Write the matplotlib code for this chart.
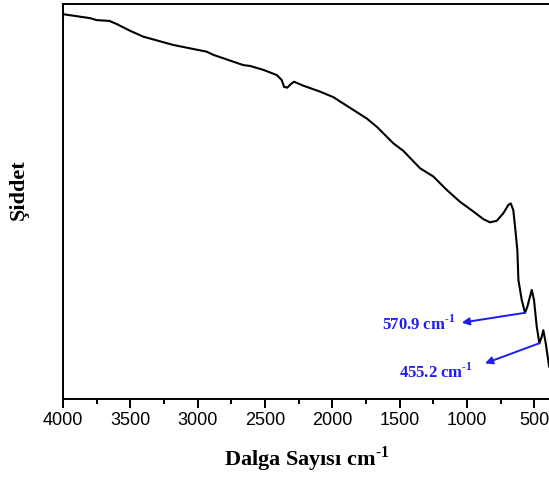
import matplotlib
matplotlib.use("Agg")
import matplotlib.pyplot as plt
from matplotlib.ticker import MultipleLocator

# FTIR spectrum (wavenumber, relative intensity)
wavenumber = [4000, 3799, 3750, 3656, 3601, 3502, 3403, 3180, 2932, 2883,
              2660, 2611, 2512, 2412, 2375, 2358, 2334, 2308, 2284, 2215,
              2091, 1992, 1868, 1744, 1669, 1546, 1472, 1348, 1249, 1149,
              1051, 950, 877, 828, 778, 729, 692, 674, 655, 642,
              625, 617, 592, 568, 551, 518, 501, 481, 461, 444,
              432, 414, 389]
intensity = [97.5, 96.5, 96.0, 95.8, 95.0, 93.3, 91.8, 89.7, 88.0, 87.2,
             84.6, 84.4, 83.4, 82.1, 80.8, 79.1, 78.9, 79.8, 80.4, 79.4,
             77.9, 76.5, 73.8, 71.1, 69.0, 64.8, 62.9, 58.5, 56.4, 53.0,
             50.0, 47.5, 45.6, 44.8, 45.2, 47.1, 49.2, 49.6, 47.9, 43.7,
             37.8, 30.2, 25.1, 21.9, 23.4, 27.7, 25.1, 18.4, 14.2, 15.8,
             17.5, 14.2, 8.3]

# peak labels: text, point on curve, arrow head, text anchor (right edge)
peak_labels = ["570.9 cm$^{\\mathbf{\u20101}}$", "455.2 cm$^{\\mathbf{\u20101}}$"]
peak_points = [(568, 21.9), (461, 14.2)]
arrow_heads = [(1038, 19.4), (865, 9.1)]
text_anchors = [(1085, 19.1), (952, 7.0)]

plt.rcParams['mathtext.fontset'] = 'custom'
plt.rcParams['mathtext.rm'] = 'Liberation Serif'
plt.rcParams['mathtext.bf'] = 'Liberation Serif:bold'

fig = plt.figure(figsize=(5.49, 4.79), dpi=100)
ax = fig.add_axes([0.1148, 0.1664, 0.8876, 0.8246])
ax.plot(wavenumber, intensity, '-', color='black', lw=1.5)

blue = '#1c1cf5'
for lab, pt, head, anc in zip(peak_labels, peak_points, arrow_heads, text_anchors):
    ax.annotate('', xy=head, xytext=pt,
                arrowprops=dict(arrowstyle='-|>', color=blue, lw=1.4,
                                mutation_scale=11, shrinkA=0, shrinkB=0))
    ax.text(anc[0], anc[1], lab, color=blue, ha='right', va='center',
            fontsize=12, fontweight='bold', family='Liberation Serif')

ax.set_xlim(4000, 380)
ax.set_ylim(0, 100)
ax.xaxis.set_major_locator(MultipleLocator(500))
ax.xaxis.set_minor_locator(MultipleLocator(250))
ax.tick_params(axis='x', which='major', direction='out', length=6.5, width=1.4,
               labelsize=13, pad=3)
ax.tick_params(axis='x', which='minor', direction='out', length=3.6, width=1.4)
ax.set_yticks([])
for lab in ax.get_xticklabels():
    lab.set_family('Liberation Sans')
for sp in ax.spines.values():
    sp.set_linewidth(1.4)

ax.set_xlabel("Dalga Sayısı cm$^{\\mathbf{\u20101}}$", fontsize=16, fontweight='bold',
              family='Liberation Serif', labelpad=11)
ax.set_ylabel("Şiddet", fontsize=16, fontweight='bold', family='Liberation Serif')
ax.yaxis.set_label_coords(-0.07, 0.53)

fig.savefig("out.png", dpi=100)
